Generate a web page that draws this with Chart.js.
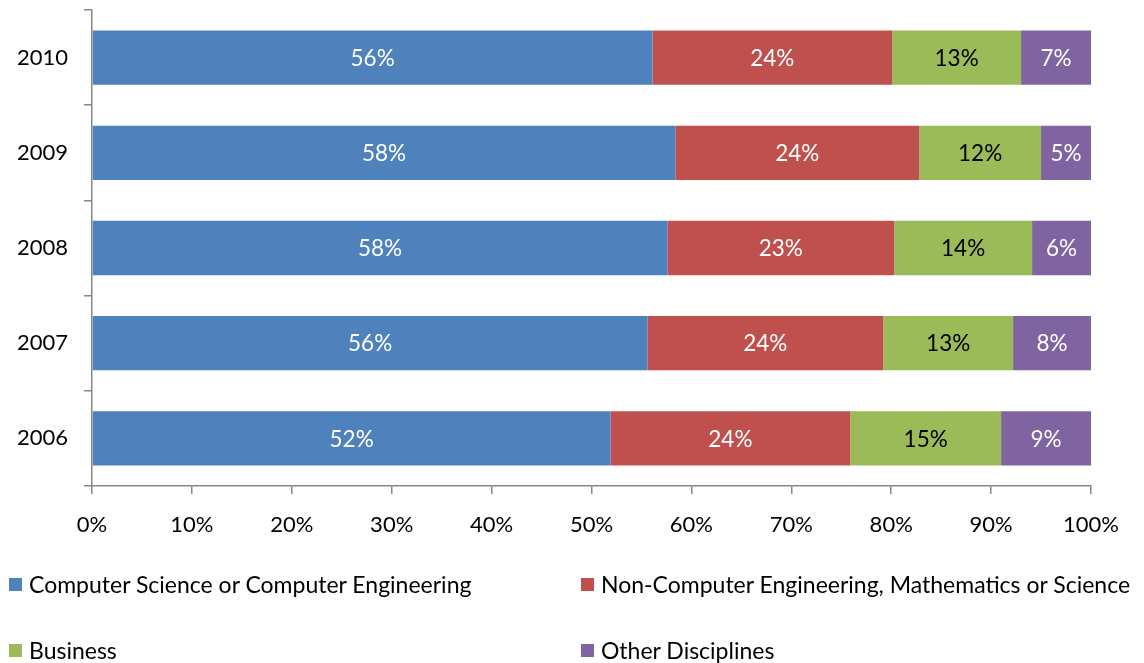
<!DOCTYPE html>
<html>
<head>
<meta charset="utf-8">
<script src="https://cdn.jsdelivr.net/npm/chart.js@4"></script>
<style>
  html, body { margin: 0; padding: 0; background: #fff; }
  #wrap { position: relative; width: 1144px; height: 663px; }
  #legend { position: absolute; left: 0; top: 0; width: 1144px; height: 663px; pointer-events: none;
            font-family: Lato, "Open Sans", sans-serif; font-size: 23px; color: #000; }
  .item { position: absolute; display: flex; align-items: center; white-space: nowrap; }
  .box { width: 13px; height: 13px; margin-right: 7px; }
</style>
</head>
<body>
<div id="wrap">
  <canvas id="degreeChart" width="1144" height="663"></canvas>
  <div id="legend"></div>
</div>
<script>
const years = ['2006', '2007', '2008', '2009', '2010'];
const seriesNames = [
  'Computer Science or Computer Engineering',
  'Non-Computer Engineering, Mathematics or Science',
  'Business',
  'Other Disciplines'
];
const computerScience = [51.9, 55.6, 57.6, 58.4, 56.1];
const otherEngineering = [24.0, 23.6, 22.7, 24.4, 24.0];
const business = [15.1, 13.0, 13.8, 12.2, 12.9];
const otherDisciplines = [9.0, 7.8, 5.9, 5.0, 7.0];
const xTicks = [0, 10, 20, 30, 40, 50, 60, 70, 80, 90, 100];

const colors = ['#4F81BD', '#C0504D', '#9BBB59', '#8064A2'];
const labelColors = ['#fff', '#fff', '#000', '#fff'];
const fontFamily = 'Lato, "Open Sans", sans-serif';
const axisGray = '#868686';

// writes the rounded percentage in the middle of each segment
const segmentLabels = {
  id: 'segmentLabels',
  afterDatasetsDraw(chart) {
    const ctx = chart.ctx;
    ctx.save();
    ctx.font = '22.5px ' + fontFamily;
    ctx.textAlign = 'center';
    ctx.textBaseline = 'middle';
    chart.data.datasets.forEach((ds, i) => {
      chart.getDatasetMeta(i).data.forEach((bar, j) => {
        ctx.fillStyle = labelColors[i];
        ctx.fillText(Math.round(ds.data[j]) + '%', (bar.x + bar.base) / 2, bar.y + 1);
      });
    });
    ctx.restore();
  }
};

const chart = new Chart(document.getElementById('degreeChart'), {
  type: 'bar',
  data: {
    labels: years,
    datasets: [computerScience, otherEngineering, business, otherDisciplines].map((vals, i) => ({
      label: seriesNames[i],
      data: vals,
      backgroundColor: colors[i],
      borderWidth: 0,
      barPercentage: 0.57,
      categoryPercentage: 1
    }))
  },
  options: {
    indexAxis: 'y',
    responsive: false,
    animation: false,
    layout: { padding: { top: 10, right: 53, left: 0, bottom: 0 } },
    plugins: { legend: { display: false }, tooltip: { enabled: false } },
    scales: {
      x: {
        stacked: true,
        min: 0,
        max: 100,
        afterBuildTicks: (axis) => { axis.ticks = xTicks.map(v => ({ value: v })); },
        afterFit: (axis) => { axis.height = 177; },
        border: { display: true, color: axisGray, width: 1.5 },
        grid: { drawOnChartArea: false, drawTicks: true, tickLength: 8, color: axisGray, lineWidth: 1.5 },
        ticks: {
          padding: 18,
          color: '#000',
          font: { family: fontFamily, size: 22 },
          callback: (v) => v + '%'
        }
      },
      y: {
        stacked: true,
        reverse: true,
        afterFit: (axis) => {
          axis.width = 92;
          axis.paddingTop = 0;
          axis.paddingBottom = 0;
        },
        border: { display: true, color: axisGray, width: 1.5 },
        grid: { offset: true, drawOnChartArea: false, drawTicks: true, tickLength: 8, color: axisGray, lineWidth: 1.5 },
        ticks: {
          padding: 16,
          color: '#000',
          font: { family: fontFamily, size: 22 }
        }
      }
    }
  },
  plugins: [segmentLabels]
});

// two-column legend under the chart, built from the datasets
const legendPos = [[9, 584], [581, 584], [9, 650], [581, 650]];
const legendEl = document.getElementById('legend');
chart.data.datasets.forEach((ds, i) => {
  const item = document.createElement('div');
  item.className = 'item';
  item.style.left = legendPos[i][0] + 'px';
  item.style.top = (legendPos[i][1] - 14) + 'px';
  item.style.height = '28px';
  item.innerHTML = '<span class="box" style="background:' + ds.backgroundColor + '"></span><span>' + ds.label + '</span>';
  legendEl.appendChild(item);
});
</script>
</body>
</html>
